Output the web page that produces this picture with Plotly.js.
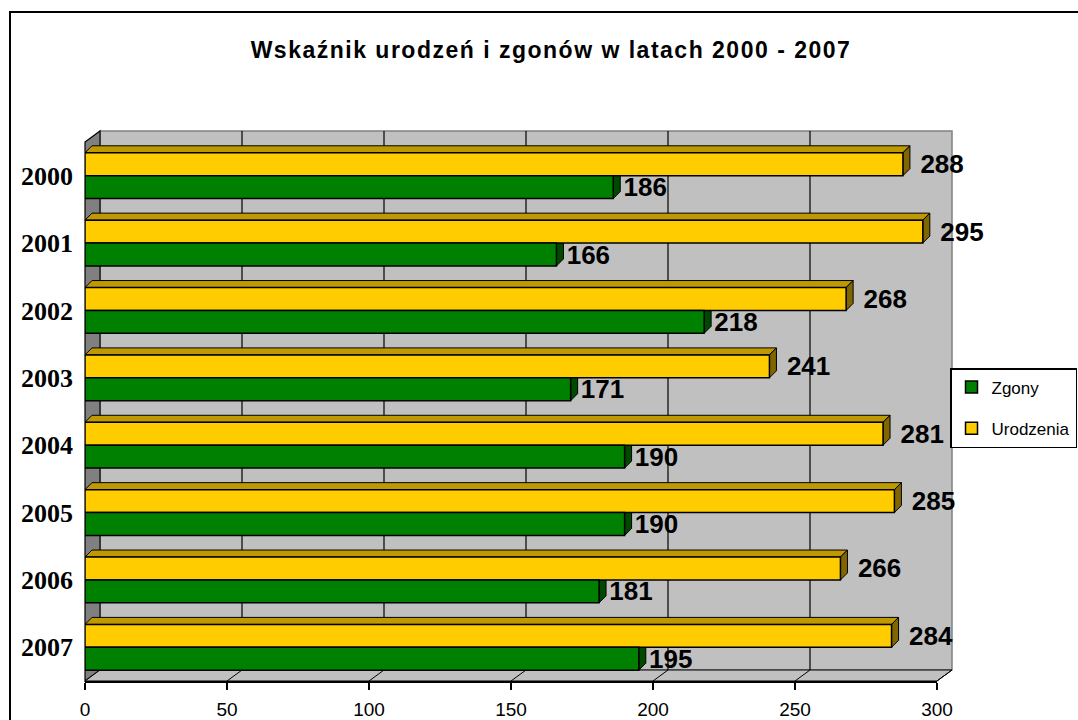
<!DOCTYPE html>
<html>
<head>
<meta charset="utf-8">
<script src="https://cdn.plot.ly/plotly-3.0.1.min.js"></script>
<style>
  html, body { margin: 0; padding: 0; background: #fff; }
  #chart { width: 1078px; height: 720px; }
  .gtitle { letter-spacing: 1.5px; }
</style>
</head>
<body>
<div id="chart"></div>
<script>
// ---- data ----
const years = ['2000', '2001', '2002', '2003', '2004', '2005', '2006', '2007'];
const zgony = [186, 166, 218, 171, 190, 190, 181, 195];
const urodzenia = [288, 295, 268, 241, 281, 285, 266, 284];
const xTicks = [0, 50, 100, 150, 200, 250, 300];
const seriesNames = ['Zgony', 'Urodzenia'];
const titleText = 'Wskaźnik urodzeń i zgonów w latach 2000 - 2007';

// ---- layout geometry ----
const W = 1078, H = 720;
const M = { l: 85, r: 141, t: 142, b: 39 };
const plotW = W - M.l - M.r;
const plotH = H - M.t - M.b;
const xRange = [0, 300];
const WALL_DX = 15, WALL_DY = 11;   // depth of the 3D walls (px)
const BAR_D = 7;                     // depth of each 3D bar (px)
const BARGAP = 0.32;
const bandPx = plotH / years.length;
const barPx = bandPx * (1 - BARGAP) / 2;
const pxPerUnit = plotW / (xRange[1] - xRange[0]);
const barDData = BAR_D / pxPerUnit;

const pLeft = M.l, pRight = M.l + plotW, pTop = M.t, pBottom = H - M.b;
const px = v => (v - M.l) / plotW;              // pixel x -> paper x
const py = v => (H - M.b - v) / plotH;          // pixel y -> paper y
const valPx = v => pLeft + (v - xRange[0]) * pxPerUnit;

const shapes = [];
// outer chart border
shapes.push({ type: 'rect', xref: 'paper', yref: 'paper', layer: 'below',
  x0: px(10), x1: px(W + 20), y0: py(H + 20), y1: py(12),
  line: { color: '#000', width: 2 }, fillcolor: 'rgba(0,0,0,0)' });
// back wall
shapes.push({ type: 'rect', xref: 'paper', yref: 'paper', layer: 'below',
  x0: px(pLeft + WALL_DX), x1: px(pRight + WALL_DX), y0: py(pBottom - WALL_DY), y1: py(pTop - WALL_DY),
  fillcolor: '#C0C0C0', line: { color: '#808080', width: 1.5 } });
// gridlines on the back wall
xTicks.forEach(t => {
  if (t === xRange[0] || t === xRange[1]) return;
  const x = px(valPx(t) + WALL_DX);
  shapes.push({ type: 'line', xref: 'paper', yref: 'paper', layer: 'below',
    x0: x, x1: x, y0: py(pBottom - WALL_DY), y1: py(pTop - WALL_DY),
    line: { color: '#000', width: 1.2 } });
});
// left side wall
shapes.push({ type: 'path', xref: 'paper', yref: 'paper', layer: 'below',
  path: `M${px(pLeft)},${py(pTop)} L${px(pLeft + WALL_DX)},${py(pTop - WALL_DY)} L${px(pLeft + WALL_DX)},${py(pBottom - WALL_DY)} L${px(pLeft)},${py(pBottom)} Z`,
  fillcolor: '#808080', line: { color: '#000', width: 1.2 } });
// floor
shapes.push({ type: 'path', xref: 'paper', yref: 'paper', layer: 'below',
  path: `M${px(pLeft)},${py(pBottom)} L${px(pRight)},${py(pBottom)} L${px(pRight + WALL_DX)},${py(pBottom - WALL_DY)} L${px(pLeft + WALL_DX)},${py(pBottom - WALL_DY)} Z`,
  fillcolor: '#C0C0C0', line: { color: '#000', width: 1 } });
// floor gridline diagonals
xTicks.forEach(t => {
  if (t === xRange[0]) return;
  shapes.push({ type: 'line', xref: 'paper', yref: 'paper', layer: 'below',
    x0: px(valPx(t)), x1: px(valPx(t) + WALL_DX), y0: py(pBottom), y1: py(pBottom - WALL_DY),
    line: { color: '#000', width: 1 } });
});

// 3D faces of bars, anchored on the data through the axes (category index as y anchor)
const bh = barPx, bd = BAR_D;
years.forEach((yr, i) => {
  const u = urodzenia[i], z = zgony[i];
  // green end face
  shapes.push({ type: 'path', xref: 'x', yref: 'y', layer: 'between',
    xsizemode: 'pixel', ysizemode: 'pixel', xanchor: z, yanchor: i,
    path: `M0,${-bh} L0,0 L${bd},${bd} L${bd},${-bh + bd} Z`,
    fillcolor: '#004A00', line: { color: '#000', width: 1 } });
  // yellow top face
  shapes.push({ type: 'path', xref: 'x', yref: 'y', layer: 'between',
    ysizemode: 'pixel', yanchor: i,
    path: `M0,${bh} L${u},${bh} L${u + barDData},${bh + bd} L${barDData},${bh + bd} Z`,
    fillcolor: '#BF9900', line: { color: '#000', width: 1 } });
  // yellow end face
  shapes.push({ type: 'path', xref: 'x', yref: 'y', layer: 'between',
    xsizemode: 'pixel', ysizemode: 'pixel', xanchor: u, yanchor: i,
    path: `M0,0 L0,${bh} L${bd},${bh + bd} L${bd},${bd} Z`,
    fillcolor: '#806600', line: { color: '#000', width: 1 } });
});

const labelFont = { family: 'Liberation Sans, Arial, sans-serif', size: 26, color: '#000', weight: 'bold' };

const traces = [
  {
    type: 'bar', orientation: 'h', name: seriesNames[1],
    y: years, x: urodzenia,
    marker: { color: '#FFCC00', line: { color: '#000', width: 1.5 } },
    texttemplate: '\u00a0\u00a0%{x}', textposition: 'outside', textfont: labelFont,
    constraintext: 'none', cliponaxis: false,
    legendrank: 2, legendgroup: 'u', hoverinfo: 'skip'
  },
  {
    type: 'bar', orientation: 'h', name: seriesNames[0],
    y: years, x: zgony,
    marker: { color: '#008000', line: { color: '#000', width: 1.5 } },
    texttemplate: '\u00a0%{x}', textposition: 'outside', textfont: labelFont,
    constraintext: 'none', cliponaxis: false,
    legendrank: 1, legendgroup: 'z', hoverinfo: 'skip'
  }
];

const layout = {
  width: W, height: H,
  margin: { l: M.l, r: M.r, t: M.t, b: M.b, autoexpand: false },
  paper_bgcolor: '#fff',
  plot_bgcolor: 'rgba(0,0,0,0)',
  barmode: 'group', bargap: BARGAP, bargroupgap: 0,
  title: {
    text: titleText,
    font: { family: 'Liberation Sans, Arial, sans-serif', size: 23, color: '#000', weight: 'bold' },
    xref: 'container', yref: 'container', x: 551 / W, y: 1 - 50 / H,
    xanchor: 'center', yanchor: 'middle'
  },
  xaxis: {
    range: xRange, tickvals: xTicks, ticktext: xTicks.map(String),
    showgrid: false, zeroline: false,
    showline: true, linecolor: '#000', linewidth: 1.5,
    ticks: 'outside', ticklen: 7, tickwidth: 1.5, tickcolor: '#000',
    ticklabelstandoff: 4,
    tickfont: { family: 'Liberation Sans, Arial, sans-serif', size: 19, color: '#000' },
    fixedrange: true
  },
  yaxis: {
    type: 'category', categoryorder: 'array', categoryarray: years,
    range: [years.length - 0.5, -0.5],
    showgrid: false, zeroline: false, showline: false, ticks: '',
    ticklabelstandoff: 11,
    tickfont: { family: 'Liberation Serif, Times New Roman, serif', size: 26, color: '#000', weight: 'bold' },
    fixedrange: true
  },
  legend: {
    x: px(950), y: py(368), xanchor: 'left', yanchor: 'top',
    bgcolor: '#fff', bordercolor: '#000', borderwidth: 1.5,
    font: { family: 'Liberation Sans, Arial, sans-serif', size: 17, color: '#000' },
    tracegroupgap: 16, itemwidth: 30
  },
  showlegend: true,
  shapes: shapes
};

Plotly.newPlot('chart', traces, layout, { displayModeBar: false, staticPlot: true });
</script>
</body>
</html>
